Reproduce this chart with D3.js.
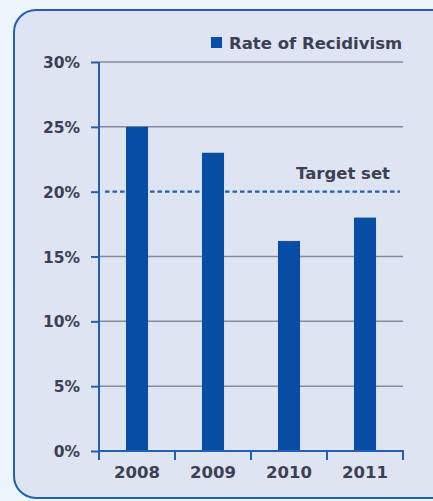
<!DOCTYPE html>
<html>
<head>
<meta charset="utf-8">
<script src="https://cdn.jsdelivr.net/npm/d3@7"></script>
<style>
  html, body { margin: 0; padding: 0; background: #edf4fc; }
  svg { display: block; }
  text { font-family: "DejaVu Sans", sans-serif; fill: #3b4055; }
</style>
</head>
<body>
<svg id="chart" width="433" height="501"></svg>
<script>
const years = ["2008", "2009", "2010", "2011"];
const recidivism = [25, 23, 16.2, 18];
const yTicks = [0, 5, 10, 15, 20, 25, 30];
const target = 20;
const seriesName = "Rate of Recidivism";
const targetLabel = "Target set";

(function () {
const svg = d3.select("#chart");

// panel
svg.append("rect")
  .attr("x", 14).attr("y", 10)
  .attr("width", 440).attr("height", 488)
  .attr("rx", 22).attr("ry", 22)
  .attr("fill", "#dfe4f2")
  .attr("stroke", "#2160b3").attr("stroke-width", 2);

const mLeft = 99, mRight = 403, mTop = 62, mBottom = 451;

const y = d3.scaleLinear().domain([0, 30]).range([mBottom, mTop]);
const x = d3.scaleBand().domain(years).range([mLeft, mRight])
  .paddingInner(0.71).paddingOuter(0.355);

// gridlines
svg.append("g").selectAll("line")
  .data(yTicks.filter(d => d > 0 && d !== target))
  .join("line")
  .attr("x1", mLeft).attr("x2", mRight)
  .attr("y1", d => y(d)).attr("y2", d => y(d))
  .attr("stroke", "#868a9f").attr("stroke-width", 1.5);

// y axis
const yAxis = d3.axisLeft(y).tickValues(yTicks)
  .tickFormat(d => d + "%").tickSize(8).tickPadding(11);
const gy = svg.append("g").attr("transform", `translate(${mLeft},0)`).call(yAxis);
gy.select(".domain").attr("stroke", "#2160b3").attr("stroke-width", 2)
  .attr("d", `M0,${mTop}V${mBottom}`);
gy.selectAll(".tick line").attr("stroke", "#2160b3").attr("stroke-width", 2);
gy.selectAll(".tick text")
  .style("font-family", "'DejaVu Sans', sans-serif")
  .style("font-size", "15.5px").style("font-weight", "bold")
  .attr("fill", "#3b4055").attr("dy", "0.36em");

// target dashed line
svg.append("line")
  .attr("x1", mLeft + 6).attr("x2", mRight - 3)
  .attr("y1", y(target)).attr("y2", y(target))
  .attr("stroke", "#2160b3").attr("stroke-width", 2.2)
  .attr("stroke-dasharray", "4.5,3");

svg.append("text")
  .attr("x", 390).attr("y", y(target) - 13)
  .attr("text-anchor", "end")
  .style("font-size", "16.5px").style("font-weight", "bold")
  .text(targetLabel);

// bars
svg.append("g").selectAll("rect")
  .data(years.map((d, i) => ({ year: d, v: recidivism[i] })))
  .join("rect")
  .attr("x", d => x(d.year))
  .attr("width", x.bandwidth())
  .attr("y", d => y(d.v))
  .attr("height", d => y(0) - y(d.v))
  .attr("fill", "#054ea3");

// x axis
const step = x.step();
const xTicks = d3.range(years.length + 1).map(i => mLeft + i * step);
const gx = svg.append("g");
gx.append("line")
  .attr("x1", mLeft - 1).attr("x2", mRight + 1)
  .attr("y1", mBottom).attr("y2", mBottom)
  .attr("stroke", "#2160b3").attr("stroke-width", 2);
gx.selectAll("line.t").data(xTicks).join("line").attr("class", "t")
  .attr("x1", d => d).attr("x2", d => d)
  .attr("y1", mBottom).attr("y2", mBottom + 9)
  .attr("stroke", "#2160b3").attr("stroke-width", 2);
gx.selectAll("text").data(years).join("text")
  .attr("x", d => x(d) + x.bandwidth() / 2)
  .attr("y", 478)
  .attr("text-anchor", "middle")
  .style("font-size", "16.5px").style("font-weight", "bold")
  .text(d => d);

// legend
svg.append("rect")
  .attr("x", 211).attr("y", 37).attr("width", 11).attr("height", 11)
  .attr("fill", "#054ea3");
svg.append("text")
  .attr("x", 229).attr("y", 49)
  .style("font-size", "16.5px").style("font-weight", "bold")
  .text(seriesName);
})();
</script>
</body>
</html>
